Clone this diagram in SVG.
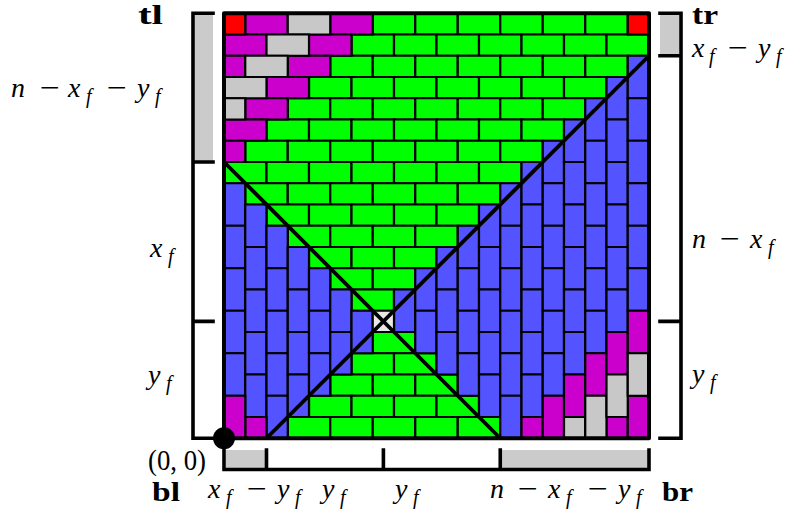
<svg xmlns="http://www.w3.org/2000/svg" xmlns:xlink="http://www.w3.org/1999/xlink" width="792" height="516" viewBox="0 0 792 516">
<style>
.G{fill:#00ff00}.B{fill:#5353ff}.M{fill:#cc00cc}.K{fill:#c8c8c8}.R{fill:#ff0000}.W{fill:#e8e8e8}
.tiles{stroke:#000;stroke-width:2.2}
.ax{stroke:#000;fill:none;stroke-width:3.6;stroke-linecap:square}
.bar{fill:#cbcbcb}
text{font-family:"Liberation Serif","DejaVu Serif",serif;fill:#000}
.mi{font-style:italic;font-size:28px}
.sb{font-style:italic;font-size:20px}
.op{font-size:28px}
.bd{font-weight:bold;font-size:27px}
.up{font-size:29px}
</style>
<defs>
<rect id="h" width="2" height="1" vector-effect="non-scaling-stroke"/>
<rect id="v" width="1" height="2" vector-effect="non-scaling-stroke"/>
<rect id="s" width="1" height="1" vector-effect="non-scaling-stroke"/>
</defs>

<g id="axes">
<rect class="bar" x="195" y="13" width="18" height="149"/>
<rect class="bar" x="660" y="13" width="19" height="43"/>
<rect class="bar" x="226" y="450" width="40.5" height="19"/>
<rect class="bar" x="500.25" y="450" width="148.75" height="19"/>
<path class="ax" d="M213 13.25H193V438.25H224M193 162H213M193 321.4H213"/>
<path class="ax" d="M660 13.25H681V438.25H660M660 55.75H681M660 321.4H681"/>
<path class="ax" d="M224 438.25V469.5H649V450M266.5 450V469.5M383.4 450V469.5M500.25 450V469.5"/>
</g>

<g id="tiling" transform="translate(224 13.25) scale(21.25)">
<g class="tiles G">
<use href="#h" x="7" y="0"/><use href="#h" x="9" y="0"/><use href="#h" x="11" y="0"/><use href="#h" x="13" y="0"/><use href="#h" x="15" y="0"/><use href="#h" x="17" y="0"/>
<use href="#h" x="6" y="1"/><use href="#h" x="8" y="1"/><use href="#h" x="10" y="1"/><use href="#h" x="12" y="1"/><use href="#h" x="14" y="1"/><use href="#h" x="16" y="1"/><use href="#h" x="18" y="1"/>
<use href="#h" x="5" y="2"/><use href="#h" x="7" y="2"/><use href="#h" x="9" y="2"/><use href="#h" x="11" y="2"/><use href="#h" x="13" y="2"/><use href="#h" x="15" y="2"/><use href="#h" x="17" y="2"/>
<use href="#h" x="4" y="3"/><use href="#h" x="6" y="3"/><use href="#h" x="8" y="3"/><use href="#h" x="10" y="3"/><use href="#h" x="12" y="3"/><use href="#h" x="14" y="3"/><use href="#h" x="16" y="3"/>
<use href="#h" x="3" y="4"/><use href="#h" x="5" y="4"/><use href="#h" x="7" y="4"/><use href="#h" x="9" y="4"/><use href="#h" x="11" y="4"/><use href="#h" x="13" y="4"/><use href="#h" x="15" y="4"/>
<use href="#h" x="2" y="5"/><use href="#h" x="4" y="5"/><use href="#h" x="6" y="5"/><use href="#h" x="8" y="5"/><use href="#h" x="10" y="5"/><use href="#h" x="12" y="5"/><use href="#h" x="14" y="5"/>
<use href="#h" x="1" y="6"/><use href="#h" x="3" y="6"/><use href="#h" x="5" y="6"/><use href="#h" x="7" y="6"/><use href="#h" x="9" y="6"/><use href="#h" x="11" y="6"/><use href="#h" x="13" y="6"/>
<use href="#h" x="0" y="7"/><use href="#h" x="2" y="7"/><use href="#h" x="4" y="7"/><use href="#h" x="6" y="7"/><use href="#h" x="8" y="7"/><use href="#h" x="10" y="7"/><use href="#h" x="12" y="7"/>
<use href="#h" x="1" y="8"/><use href="#h" x="3" y="8"/><use href="#h" x="5" y="8"/><use href="#h" x="7" y="8"/><use href="#h" x="9" y="8"/><use href="#h" x="11" y="8"/>
<use href="#h" x="2" y="9"/><use href="#h" x="4" y="9"/><use href="#h" x="6" y="9"/><use href="#h" x="8" y="9"/><use href="#h" x="10" y="9"/>
<use href="#h" x="3" y="10"/><use href="#h" x="5" y="10"/><use href="#h" x="7" y="10"/><use href="#h" x="9" y="10"/>
<use href="#h" x="4" y="11"/><use href="#h" x="6" y="11"/><use href="#h" x="8" y="11"/>
<use href="#h" x="5" y="12"/><use href="#h" x="7" y="12"/>
<use href="#h" x="6" y="13"/>
<use href="#h" x="7" y="15"/>
<use href="#h" x="6" y="16"/><use href="#h" x="8" y="16"/>
<use href="#h" x="5" y="17"/><use href="#h" x="7" y="17"/><use href="#h" x="9" y="17"/>
<use href="#h" x="4" y="18"/><use href="#h" x="6" y="18"/><use href="#h" x="8" y="18"/><use href="#h" x="10" y="18"/>
<use href="#h" x="3" y="19"/><use href="#h" x="5" y="19"/><use href="#h" x="7" y="19"/><use href="#h" x="9" y="19"/><use href="#h" x="11" y="19"/>
</g>
<g class="tiles B">
<use href="#v" x="0" y="8"/><use href="#v" x="0" y="10"/><use href="#v" x="0" y="12"/><use href="#v" x="0" y="14"/><use href="#v" x="0" y="16"/>
<use href="#v" x="1" y="9"/><use href="#v" x="1" y="11"/><use href="#v" x="1" y="13"/><use href="#v" x="1" y="15"/><use href="#v" x="1" y="17"/>
<use href="#v" x="2" y="10"/><use href="#v" x="2" y="12"/><use href="#v" x="2" y="14"/><use href="#v" x="2" y="16"/><use href="#v" x="2" y="18"/>
<use href="#v" x="3" y="11"/><use href="#v" x="3" y="13"/><use href="#v" x="3" y="15"/><use href="#v" x="3" y="17"/>
<use href="#v" x="4" y="12"/><use href="#v" x="4" y="14"/><use href="#v" x="4" y="16"/>
<use href="#v" x="5" y="13"/><use href="#v" x="5" y="15"/>
<use href="#v" x="6" y="14"/>
<use href="#v" x="8" y="13"/>
<use href="#v" x="9" y="12"/><use href="#v" x="9" y="14"/>
<use href="#v" x="10" y="11"/><use href="#v" x="10" y="13"/><use href="#v" x="10" y="15"/>
<use href="#v" x="11" y="10"/><use href="#v" x="11" y="12"/><use href="#v" x="11" y="14"/><use href="#v" x="11" y="16"/>
<use href="#v" x="12" y="9"/><use href="#v" x="12" y="11"/><use href="#v" x="12" y="13"/><use href="#v" x="12" y="15"/><use href="#v" x="12" y="17"/>
<use href="#v" x="13" y="8"/><use href="#v" x="13" y="10"/><use href="#v" x="13" y="12"/><use href="#v" x="13" y="14"/><use href="#v" x="13" y="16"/><use href="#v" x="13" y="18"/>
<use href="#v" x="14" y="7"/><use href="#v" x="14" y="9"/><use href="#v" x="14" y="11"/><use href="#v" x="14" y="13"/><use href="#v" x="14" y="15"/><use href="#v" x="14" y="17"/>
<use href="#v" x="15" y="6"/><use href="#v" x="15" y="8"/><use href="#v" x="15" y="10"/><use href="#v" x="15" y="12"/><use href="#v" x="15" y="14"/><use href="#v" x="15" y="16"/>
<use href="#v" x="16" y="5"/><use href="#v" x="16" y="7"/><use href="#v" x="16" y="9"/><use href="#v" x="16" y="11"/><use href="#v" x="16" y="13"/><use href="#v" x="16" y="15"/>
<use href="#v" x="17" y="4"/><use href="#v" x="17" y="6"/><use href="#v" x="17" y="8"/><use href="#v" x="17" y="10"/><use href="#v" x="17" y="12"/><use href="#v" x="17" y="14"/>
<use href="#v" x="18" y="3"/><use href="#v" x="18" y="5"/><use href="#v" x="18" y="7"/><use href="#v" x="18" y="9"/><use href="#v" x="18" y="11"/><use href="#v" x="18" y="13"/>
<use href="#v" x="19" y="2"/><use href="#v" x="19" y="4"/><use href="#v" x="19" y="6"/><use href="#v" x="19" y="8"/><use href="#v" x="19" y="10"/><use href="#v" x="19" y="12"/>
</g>
<g class="tiles M">
<use href="#h" x="1" y="0"/><use href="#h" x="5" y="0"/><use href="#h" x="0" y="1"/><use href="#h" x="4" y="1"/><use href="#h" x="3" y="2"/><use href="#h" x="2" y="3"/><use href="#h" x="1" y="4"/><use href="#h" x="0" y="5"/>
<use href="#s" x="0" y="2"/><use href="#s" x="0" y="6"/><use href="#s" x="1" y="19"/><use href="#s" x="14" y="19"/><use href="#s" x="18" y="19"/>
<use href="#v" x="0" y="18"/><use href="#v" x="15" y="18"/><use href="#v" x="16" y="17"/><use href="#v" x="17" y="16"/><use href="#v" x="18" y="15"/><use href="#v" x="19" y="14"/><use href="#v" x="19" y="18"/>
</g>
<g class="tiles K">
<use href="#h" x="3" y="0"/><use href="#h" x="2" y="1"/><use href="#h" x="1" y="2"/><use href="#h" x="0" y="3"/>
<use href="#s" x="0" y="4"/><use href="#s" x="16" y="19"/>
<use href="#v" x="17" y="18"/><use href="#v" x="18" y="17"/><use href="#v" x="19" y="16"/>
</g>
<g class="tiles R"><use href="#s" x="0" y="0"/><use href="#s" x="19" y="0"/></g>
<g class="tiles W"><use href="#s" x="7" y="14"/></g>
<rect x="0" y="0" width="20" height="20" fill="none" stroke="#000" stroke-width="4" stroke-linejoin="round" vector-effect="non-scaling-stroke"/>
<g id="diagonals">
<line x1="0" y1="7" x2="13" y2="20" stroke="#000" stroke-width="3.8" vector-effect="non-scaling-stroke"/>
<line x1="20" y1="2" x2="2" y2="20" stroke="#000" stroke-width="3.8" vector-effect="non-scaling-stroke"/>
</g>
</g>
<circle cx="224" cy="438.25" r="11" fill="#000"/>

<g id="labels">
<text class="bd" x="138" y="24" textLength="25" lengthAdjust="spacingAndGlyphs">tl</text>
<text class="bd" x="692" y="24" textLength="26" lengthAdjust="spacingAndGlyphs">tr</text>
<text class="bd" x="152" y="501" textLength="28" lengthAdjust="spacingAndGlyphs">bl</text>
<text class="bd" x="662" y="501" textLength="31" lengthAdjust="spacingAndGlyphs">br</text>

<text class="mi" x="11" y="97">n</text><text class="op" x="40" y="97" textLength="20" lengthAdjust="spacingAndGlyphs">−</text><text class="mi" x="68" y="97">x</text><text class="sb" x="86" y="103">f</text><text class="op" x="107" y="97" textLength="20" lengthAdjust="spacingAndGlyphs">−</text><text class="mi" x="137" y="97">y</text><text class="sb" x="155" y="103">f</text>

<text class="mi" x="150" y="257">x</text><text class="sb" x="168" y="263">f</text>
<text class="mi" x="148" y="384">y</text><text class="sb" x="166" y="390">f</text>
<text class="up" x="148" y="470" textLength="58" lengthAdjust="spacingAndGlyphs">(0, 0)</text>

<text class="mi" x="692" y="57">x</text><text class="sb" x="709" y="63">f</text><text class="op" x="728" y="57" textLength="20" lengthAdjust="spacingAndGlyphs">−</text><text class="mi" x="758" y="57">y</text><text class="sb" x="776" y="63">f</text>
<text class="mi" x="692" y="248">n</text><text class="op" x="720" y="248" textLength="20" lengthAdjust="spacingAndGlyphs">−</text><text class="mi" x="750" y="248">x</text><text class="sb" x="768" y="254">f</text>
<text class="mi" x="692" y="383">y</text><text class="sb" x="710" y="389">f</text>

<text class="mi" x="208" y="498">x</text><text class="sb" x="226" y="504">f</text><text class="op" x="247" y="498" textLength="20" lengthAdjust="spacingAndGlyphs">−</text><text class="mi" x="277" y="498">y</text><text class="sb" x="295" y="504">f</text>
<text class="mi" x="322" y="498">y</text><text class="sb" x="340" y="504">f</text>
<text class="mi" x="395" y="498">y</text><text class="sb" x="413" y="504">f</text>
<text class="mi" x="490" y="498">n</text><text class="op" x="518" y="498" textLength="20" lengthAdjust="spacingAndGlyphs">−</text><text class="mi" x="548" y="498">x</text><text class="sb" x="566" y="504">f</text><text class="op" x="588" y="498" textLength="20" lengthAdjust="spacingAndGlyphs">−</text><text class="mi" x="618" y="498">y</text><text class="sb" x="636" y="504">f</text>
</g>
</svg>
